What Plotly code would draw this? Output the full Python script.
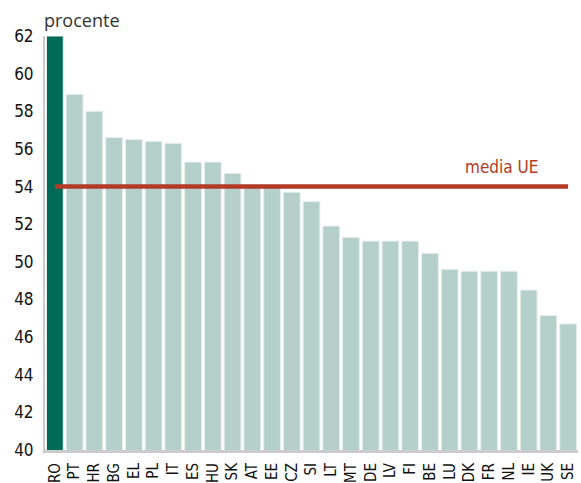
import plotly.graph_objects as go

countries = ["RO","PT","HR","BG","EL","PL","IT","ES","HU","SK","AT","EE","CZ","SI",
             "LT","MT","DE","LV","FI","BE","LU","DK","FR","NL","IE","UK","SE"]
values = [62.0,58.9,58.0,56.6,56.5,56.4,56.3,55.3,55.3,54.7,54.05,54.0,53.7,53.2,
          51.9,51.3,51.1,51.1,51.1,50.45,49.6,49.5,49.5,49.5,48.5,47.15,46.7]
eu_mean = 54.0
y_ticks = [40,42,44,46,48,50,52,54,56,58,60,62]

colors = ["#006b56"] + ["#b5cfcb"] * (len(countries) - 1)
cond = "DejaVu Sans Condensed, Liberation Sans Narrow, Roboto Condensed, Roboto, sans-serif"

fig = go.Figure()
fig.add_trace(go.Bar(x=countries, y=values, marker=dict(color=colors, line=dict(color="#e6efee", width=1)),
                     showlegend=False, hoverinfo="x+y"))
fig.add_trace(go.Scatter(x=[countries[0], countries[-1]], y=[eu_mean, eu_mean], mode="lines",
                         line=dict(color="#b23a26", width=4.5), showlegend=False))
fig.add_annotation(x=22.6, y=eu_mean, xref="x", yref="y", text="media UE", showarrow=False,
                   yanchor="bottom", xanchor="center", yshift=8,
                   font=dict(family=cond, size=17, color="#b23a26"))
fig.add_annotation(x=0, y=1.0, xref="paper", yref="paper", text="procente", showarrow=False,
                   xanchor="left", yanchor="bottom", yshift=2, xshift=-3,
                   font=dict(family="Open Sans, sans-serif", size=18, color="#333333"))

fig.update_layout(
    width=581, height=483,
    margin=dict(l=45, r=3, t=36, b=33),
    plot_bgcolor="white", paper_bgcolor="white",
    bargap=0.15,
    xaxis=dict(type="category", range=[-0.5, len(countries) - 0.5], tickangle=-90, automargin=False,
               tickfont=dict(family=cond, size=15, color="#111"), ticklabelstandoff=4,
               showline=True, linecolor="#cccccc", linewidth=3, ticks="", showgrid=False),
    yaxis=dict(range=[40, 62], tickvals=y_ticks, showgrid=False, zeroline=False, automargin=False,
               tickfont=dict(family=cond, size=17, color="#111"),
               showline=True, linecolor="#cccccc", linewidth=2, ticks="", ticklabelstandoff=6),
)
fig.write_html("out.html", config={"displayModeBar": False})

with open("out.html", "r", encoding="utf-8") as f:
    html = f.read()
html = html.replace("<body>", '<body style="margin:0;overflow:hidden">', 1)
with open("out.html", "w", encoding="utf-8") as f:
    f.write(html)
